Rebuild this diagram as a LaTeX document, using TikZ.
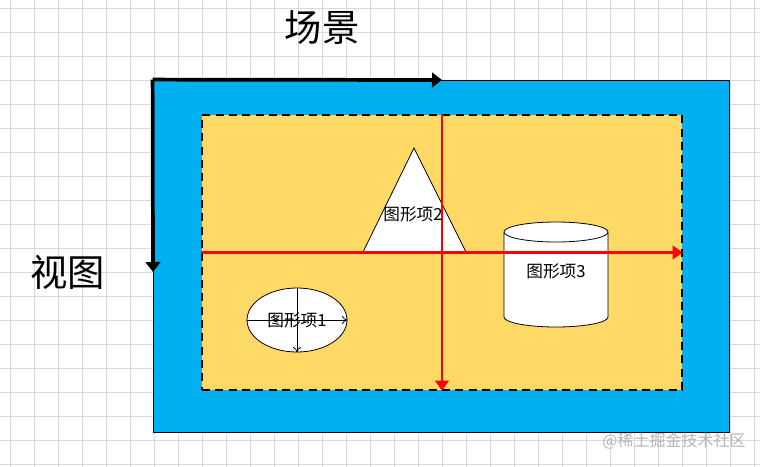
\documentclass[tikz,border=0pt]{standalone}
\usepackage{fontspec}
\setmainfont{Noto Sans CJK SC}
\usetikzlibrary{arrows.meta,shapes.geometric}
\definecolor{viewblue}{HTML}{00B0F0}
\definecolor{scenegold}{HTML}{FFD966}
\definecolor{gridgray}{HTML}{D9D9D9}
\definecolor{markgray}{HTML}{B4B4B4}

\begin{document}
\begin{tikzpicture}[x=0.75pt,y=-0.75pt,
  gridline/.style={color=gridgray, line width=0.6pt},
  axisline/.style={line width=2.8pt, -{Triangle[length=7.5pt,width=11pt]}},
  redline/.style={color=red, line width=2.2pt, -{Triangle[length=7.5pt,width=10pt]}},
  item/.style={draw, fill=white, line width=0.6pt},
  itemarrow/.style={line width=0.6pt, -{To[length=4pt,width=6pt]}}]

\useasboundingbox (0,0) rectangle (760,467);

% background grid
\foreach \gx in {10,34,...,754} \draw[gridline] (\gx,0) -- (\gx,467);
\foreach \gy in {8,32,...,464} \draw[gridline] (0,\gy) -- (760,\gy);

% view and scene
\path (441,256) node[draw, fill=viewblue, line width=0.6pt, minimum width=432pt, minimum height=264pt, inner sep=0pt] (view) {};
\path (view) +(1,-3.5) node[draw, fill=scenegold, dash pattern=on 6pt off 4pt, line width=1.1pt, minimum width=360pt, minimum height=206.25pt, inner sep=0pt] (scene) {};

\coordinate (xend) at (442,80);
\coordinate (yend) at (153,272);
\draw[axisline] (view.north west) -- (xend);
\draw[axisline] (view.north west) -- (yend);

% items
\path (297,320) node[item, ellipse, minimum width=75pt, minimum height=48pt, inner sep=0pt] (item1) {};
\draw[itemarrow] (item1.west) -- (item1.east);
\draw[itemarrow] (item1.north) -- (item1.south);

\draw[item] (414,148) -- (466,252) -- (363,252) -- cycle;

\draw[item] (504,232) -- (504,317) arc[start angle=180, end angle=0, x radius=52, y radius=10] -- (608,232);
\draw[item] (556,232) ellipse [x radius=52, y radius=10];

% scene axes
\draw[redline] (scene.west) -- (scene.east);
\draw[redline] (scene.north) -- (scene.south);

\begin{scope}[every node/.style={inner sep=0pt, font=\fontsize{12.5pt}{12.5pt}\selectfont}]
    \path (item1) node (label1) {图形项1};
    \path (413,214) node (label2) {图形项2};
    \path (556,271) node (label3) {图形项3};
\end{scope}

\path (322,28) node[font=\fontsize{28pt}{28pt}\selectfont] (scenelabel) {场景};
\path (68,272) node[font=\fontsize{28pt}{28pt}\selectfont] (viewlabel) {视图};
\path (674,441) node[color=markgray, font=\fontsize{12pt}{12pt}\selectfont] (mark) {@稀土掘金技术社区};

\end{tikzpicture}
\end{document}
